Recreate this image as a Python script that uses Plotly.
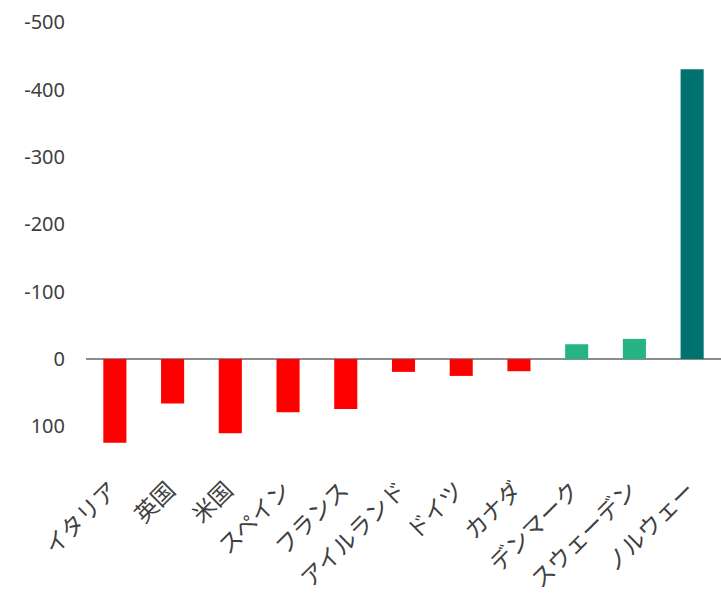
import plotly.graph_objects as go

# Country categories and their values (positive = red, negative = green/teal)
countries = ["イタリア", "英国", "米国", "スペイン", "フランス", "アイルランド",
             "ドイツ", "カナダ", "デンマーク", "スウェーデン", "ノルウェー"]
values = [124, 66, 110, 79, 74, 19, 25, 18, -22, -30, -430]
bar_colors = ["#FF0000"] * 8 + ["#26B482", "#26B482", "#007371"]

y_ticks = [-500, -400, -300, -200, -100, 0, 100]

fig = go.Figure(
    go.Bar(
        x=countries,
        y=values,
        marker=dict(color=bar_colors, line=dict(width=0)),
        width=0.4,
    )
)

fig.update_layout(
    width=721,
    height=595,
    margin=dict(l=86, r=0, t=8, b=149),
    plot_bgcolor="white",
    paper_bgcolor="white",
    showlegend=False,
    font=dict(family="Noto Sans CJK JP, Noto Sans", color="#404040"),
)

fig.update_yaxes(
    range=[129, -521],
    tickvals=y_ticks,
    ticktext=[str(v) for v in y_ticks],
    showgrid=False,
    zeroline=True,
    zerolinecolor="#8c8c8c",
    zerolinewidth=1.5,
    showline=False,
    ticks="",
    ticklabelstandoff=20,
    tickfont=dict(size=20, family="Noto Sans", color="#404040"),
)

fig.update_xaxes(
    showgrid=False,
    showline=False,
    ticks="",
    tickangle=-45,
    ticklabelstandoff=25,
    ticklabelshift=-4,
    tickfont=dict(size=23, family="Noto Sans CJK JP", color="#404040"),
)

fig.write_html("out.html")
